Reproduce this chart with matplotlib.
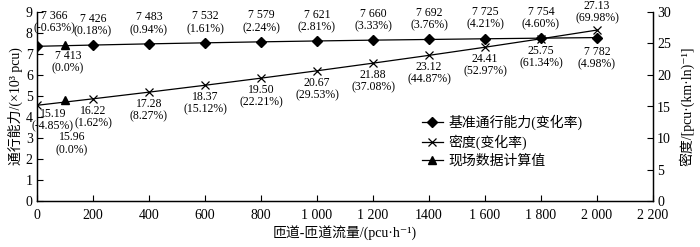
import matplotlib
matplotlib.use("Agg")
import matplotlib.pyplot as plt
from matplotlib.lines import Line2D

plt.rcParams['font.family'] = ['Liberation Serif', 'Noto Sans CJK SC', 'DejaVu Serif']
plt.rcParams['axes.unicode_minus'] = False

flows = [0, 200, 400, 600, 800, 1000, 1200, 1400, 1600, 1800, 2000]
capacity = [7366, 7426, 7483, 7532, 7579, 7621, 7660, 7692, 7725, 7754, 7782]
capacity_change = ['-0.63', '0.18', '0.94', '1.61', '2.24', '2.81', '3.33', '3.76', '4.21', '4.60', '4.98']
density = [15.19, 16.22, 17.28, 18.37, 19.50, 20.67, 21.88, 23.12, 24.41, 25.75, 27.13]
density_change = ['-4.85', '1.62', '8.27', '15.12', '22.21', '29.53', '37.08', '44.87', '52.97', '61.34', '69.98']
field_flow = [100]
field_capacity = [7413]
field_density = [15.96]
field_change = ['0.0', '0.0']

xticks = [0, 200, 400, 600, 800, 1000, 1200, 1400, 1600, 1800, 2000, 2200]
xticklabels = ['0', '200', '400', '600', '800', '1 000', '1 200', '1400', '1 600', '1 800', '2 000', '2 200']


def fmt_cap(v):
    s = str(v)
    return s[:-3] + ' ' + s[-3:]


fig = plt.figure(figsize=(7.0, 2.47), dpi=100)
ax = fig.add_axes([37 / 700, 46 / 247, 616 / 700, 189 / 247])
ax2 = ax.twinx()

cap_k = [c / 1000 for c in capacity]
ax.plot(flows, cap_k, color='black', lw=0.9, marker='D', ms=5, mfc='black', mec='black', zorder=3)
ax.plot(field_flow, [c / 1000 for c in field_capacity], ls='none', marker='^', ms=5.5,
        color='black', zorder=4)
ax2.plot(flows, density, color='black', lw=0.9, marker='x', ms=6, mew=0.9, zorder=3)
ax2.plot(field_flow, field_density, ls='none', marker='^', ms=5.5, color='black', zorder=4)

ax.set_xlim(0, 2200)
ax.set_ylim(0, 9)
ax2.set_ylim(0, 30)
ax.set_xticks(xticks)
ax.set_xticklabels(xticklabels)
ax.set_yticks(range(0, 10))
ax2.set_yticks(range(0, 31, 5))

for a in (ax, ax2):
    a.spines['top'].set_visible(False)
    a.tick_params(direction='in', length=4, width=0.8, labelsize=10, pad=3)
    for s in a.spines.values():
        s.set_linewidth(0.9)
ax.tick_params(axis='x', pad=6)

ax.set_xlabel('匝道-匝道流量/(pcu·h⁻¹)', fontsize=10, labelpad=2)
ax.set_ylabel('通行能力/(×10³ pcu)', fontsize=10, labelpad=2)
ax2.set_ylabel('密度/[pcu·(km·ln)⁻¹]', fontsize=10, labelpad=6)

fs = 8.5
for i, (x, c, cc) in enumerate(zip(flows, cap_k, capacity_change)):
    txt = f'{fmt_cap(capacity[i])}\n({cc}%)'
    if i == 0:
        off, va = (17, 12), 'bottom'
    elif i == len(flows) - 1:
        off, va = (0, -8), 'top'
    else:
        off, va = (0, 8), 'bottom'
    ax.annotate(txt, (x, c), xytext=off, textcoords='offset pixels', ha='center', va=va,
                fontsize=fs, linespacing=1.05)

for i, (x, d, dc) in enumerate(zip(flows, density, density_change)):
    txt = f'{d:.2f}\n({dc}%)'
    if i == 0:
        off, va = (16, -3), 'top'
    elif i == len(flows) - 1:
        off, va = (0, 6), 'bottom'
    else:
        off, va = (0, -6), 'top'
    ax2.annotate(txt, (x, d), xytext=off, textcoords='offset pixels', ha='center', va=va,
                 fontsize=fs, linespacing=1.05)

ax.annotate(f'{fmt_cap(field_capacity[0])}\n({field_change[0]}%)',
            (field_flow[0], field_capacity[0] / 1000), xytext=(3, -5), textcoords='offset pixels',
            ha='center', va='top', fontsize=fs, linespacing=1.05)
ax2.annotate(f'{field_density[0]:.2f}\n({field_change[1]}%)',
             (field_flow[0], field_density[0]), xytext=(7, -31), textcoords='offset pixels',
             ha='center', va='top', fontsize=fs, linespacing=1.05)

handles = [
    Line2D([], [], color='black', lw=0.9, marker='D', ms=5),
    Line2D([], [], color='black', lw=0.9, marker='x', ms=6, mew=0.9),
    Line2D([], [], color='black', lw=0.9, marker='^', ms=5.5),
]
labels = ['基准通行能力(变化率)', '密度(变化率)', '现场数据计算值']
ax2.legend(handles, labels, loc='upper left', bbox_to_anchor=(422 / 700, 1 - 115 / 247),
           bbox_transform=fig.transFigure, frameon=False, fontsize=10, handlelength=1.5,
           handletextpad=0.4, labelspacing=0.3, borderpad=0, borderaxespad=0)

fig.savefig('out.png', dpi=100)
